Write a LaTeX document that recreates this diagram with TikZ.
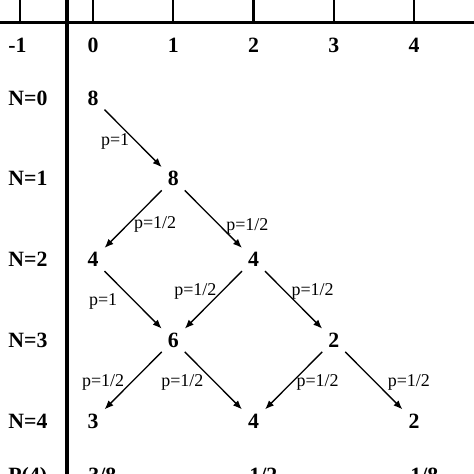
\documentclass[tikz,border=0pt]{standalone}
\usepackage{fontspec}
\setmainfont{Liberation Serif}
\usepackage{tikz}
\usetikzlibrary{arrows.meta}
\tikzset{>={Latex[length=4.5pt,width=3.6pt]}}

\begin{document}
\begin{tikzpicture}[x=40.125pt, y=-40.375pt,
  val/.style={circle, inner sep=0pt, minimum size=16pt, font=\fontsize{10.9}{12}\selectfont\bfseries},
  hdr/.style={inner sep=0pt, font=\fontsize{10.9}{12}\selectfont\bfseries},
  prob/.style={inner sep=0pt, font=\fontsize{9}{10}\selectfont},
  walk/.style={->, line width=0.65pt}]
 \useasboundingbox (-1.159,-1.214) rectangle (4.748,4.656);

 % Axes
 \draw[line width=1.35pt] (-1.3,-0.932) -- (4.9,-0.932);
 \draw[line width=2pt] (-0.324,-1.3) -- (-0.324,4.8);
 \foreach \x in {-0.91, 0, 1,...,4}{
    \draw[line width=1.2pt] (\x,-1.3) -- (\x,-0.932);
    }

 % Column labels
 \node[hdr, anchor=west] (cm1) at (-1.059,-0.656) {-1};
 \foreach \x in {0, 1,...,4}{
    \node[hdr] (c\x) at (\x,-0.656) {\x};
    }

 % Row labels
 \foreach \y in {0, 1,...,4}{
    \node[hdr, anchor=west] (r\y) at (-1.059,\y) {N=\y};
    }

 % Values
 \node[val] (n00) at (0,0) {8};
 \node[val] (n11) at (1,1) {8};
 \node[val] (n02) at (0,2) {4};
 \node[val] (n22) at (2,2) {4};
 \node[val] (n13) at (1,3) {6};
 \node[val] (n33) at (3,3) {2};
 \node[val] (n04) at (0,4) {3};
 \node[val] (n24) at (2,4) {4};
 \node[val] (n44) at (4,4) {2};

 % Distribution
 \node[hdr, anchor=base west] (p4) at (-1.059,4.764) {P(4)};
 \node[hdr, anchor=base west] (q0) at (-0.062,4.764) {3/8};
 \node[hdr, anchor=base west] (q2) at (1.944,4.764) {1/2};
 \node[hdr, anchor=base west] (q4) at (3.950,4.764) {1/8};

 % Steps
 \draw[walk] (n00) -- (n11) node[prob, midway, xshift=-9pt, yshift=-1.5pt] {p=1};
 \draw[walk] (n11) -- (n02) node[prob, midway, xshift=11pt, yshift=-2.5pt] {p=1/2};
 \draw[walk] (n11) -- (n22) node[prob, midway, xshift=17pt, yshift=-3.5pt] {p=1/2};
 \draw[walk] (n02) -- (n13) node[prob, midway, xshift=-15pt, yshift=-1pt] {p=1};
 \draw[walk] (n22) -- (n13) node[prob, midway, xshift=-9pt, yshift=4pt] {p=1/2};
 \draw[walk] (n22) -- (n33) node[prob, midway, xshift=9.5pt, yshift=4pt] {p=1/2};
 \draw[walk] (n13) -- (n04) node[prob, midway, xshift=-15pt, yshift=-1pt] {p=1/2};
 \draw[walk] (n13) -- (n24) node[prob, midway, xshift=-15.5pt, yshift=-1pt] {p=1/2};
 \draw[walk] (n33) -- (n24) node[prob, midway, xshift=12pt, yshift=-1pt] {p=1/2};
 \draw[walk] (n33) -- (n44) node[prob, midway, xshift=17.5pt, yshift=-1pt] {p=1/2};

\end{tikzpicture}
\end{document}
